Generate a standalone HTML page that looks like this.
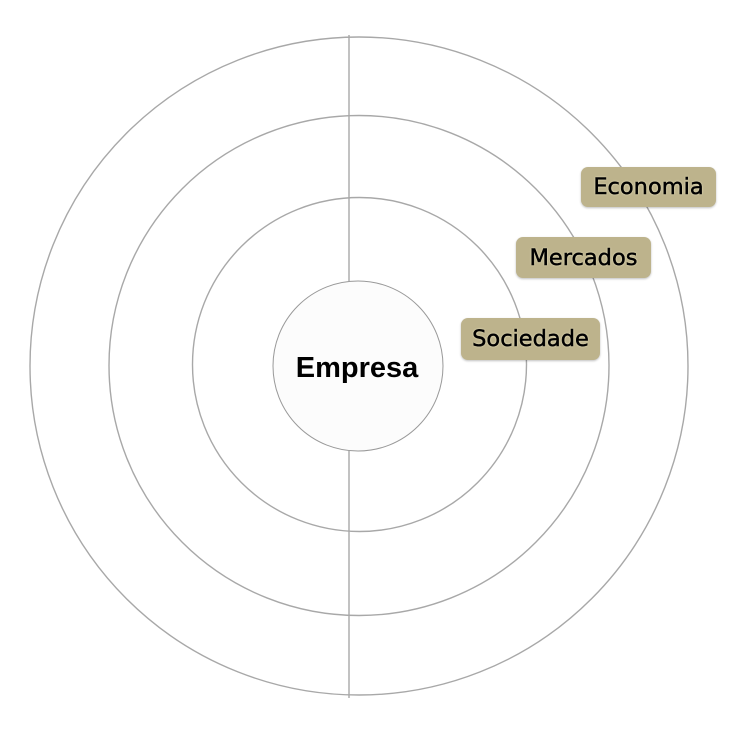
<!DOCTYPE html>
<html><head><meta charset="utf-8"><style>
html,body{margin:0;padding:0;background:#fff;}
.lbl{position:absolute;background:#bdb38c;border-radius:7px;box-shadow:0 1px 2px rgba(0,0,0,.25);font-family:"DejaVu Sans","Liberation Sans",sans-serif;font-size:22.5px;color:#000;-webkit-text-stroke:0.5px #000;display:flex;align-items:center;justify-content:center;text-shadow:0 0 2px #fff8d8;}
</style></head><body>
<div style="position:relative;width:739px;height:730px;overflow:hidden;">
<svg width="739" height="730" style="position:absolute;left:0;top:0">
<g fill="none" stroke="#a8a8a8" stroke-width="1.4">
<circle cx="359" cy="366" r="329"/>
<circle cx="359" cy="365.5" r="250"/>
<circle cx="359.5" cy="364.5" r="167"/>
<line x1="349" y1="35" x2="349" y2="281"/>
<line x1="349" y1="451" x2="349" y2="698"/>
</g>
<circle cx="358" cy="366" r="85" fill="#fcfcfc" stroke="#999" stroke-width="1"/>
<text x="357" y="377" text-anchor="middle" font-family="Liberation Sans, DejaVu Sans, sans-serif" font-weight="bold" font-size="29" fill="#000">Empresa</text>
</svg>
<div class="lbl" style="left:581px;top:167px;width:135px;height:40px;">Economia</div>
<div class="lbl" style="left:516px;top:237px;width:135px;height:41px;">Mercados</div>
<div class="lbl" style="left:461px;top:318px;width:139px;height:42px;">Sociedade</div>
</div>
</body></html>
